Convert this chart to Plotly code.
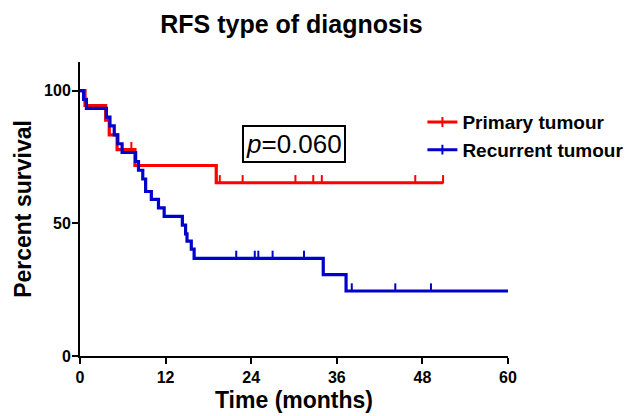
import plotly.graph_objects as go

# ---- data ----
red_name = "Primary tumour"
red_t = [0, 0.7, 3.6, 4.1, 5.2, 7.7, 19.1, 50.9]
red_s = [100, 94.4, 88.9, 83.3, 77.8, 71.8, 65.3, 65.3]
red_censor_t = [7.2, 19.6, 22.8, 30.2, 32.7, 33.9, 47.0, 50.9]

blue_name = "Recurrent tumour"
blue_t = [0, 0.5, 0.9, 3.7, 4.2, 4.8, 5.3, 5.9, 7.8, 8.2, 8.8, 9.2, 10.0, 11.0,
          11.8, 14.35, 14.8, 15.0, 15.6, 16.0, 34.1, 37.3, 60.0]
blue_s = [100, 96.7, 93.3, 90.0, 86.7, 83.3, 80.0, 76.7, 73.3, 70.0, 66.7, 62.0, 59.0, 55.8,
          52.6, 49.3, 46.0, 43.3, 40.3, 36.8, 30.7, 24.5, 24.5]
blue_censor_t = [21.9, 24.5, 25.0, 27.0, 31.4, 38.1, 44.2, 49.2]

x_ticks = [0, 12, 24, 36, 48, 60]
y_ticks = [0, 50, 100]
p_text = "<i>p</i>=0.060"

RED = "#FF0000"
BLUE = "#0000CC"
FONT = "Liberation Sans"


def surv_at(times, surv, t):
    val = surv[0]
    for ti, si in zip(times, surv):
        if ti <= t:
            val = si
    return val


fig = go.Figure()
for name, tt, ss, ct, col in [(red_name, red_t, red_s, red_censor_t, RED),
                               (blue_name, blue_t, blue_s, blue_censor_t, BLUE)]:
    fig.add_trace(go.Scatter(x=tt, y=ss, mode="lines", line=dict(color=col, width=3.2, shape="hv"),
                             showlegend=False, hoverinfo="skip"))
    cy = [surv_at(tt, ss, t) + 1.3 for t in ct]
    fig.add_trace(go.Scatter(x=ct, y=cy, mode="markers",
                             marker=dict(symbol="line-ns", size=6, line=dict(color=col, width=2)),
                             showlegend=False, hoverinfo="skip"))
    # legend entry
    fig.add_trace(go.Scatter(x=[None], y=[None], mode="lines+markers", name=name,
                             line=dict(color=col, width=3),
                             marker=dict(symbol="line-ns", size=7, line=dict(color=col, width=2))))

fig.add_annotation(x=30, y=80, xref="x", yref="y", text=p_text, showarrow=False,
                   font=dict(family=FONT, size=26, color="black"),
                   bordercolor="black", borderwidth=2, borderpad=2, bgcolor="white")

fig.update_layout(
    width=633, height=416,
    margin=dict(l=80, r=125, t=62, b=60, autoexpand=False),
    plot_bgcolor="white", paper_bgcolor="white",
    title=dict(text="RFS type of diagnosis", x=0.4605, xanchor="center", y=0.942, yanchor="middle",
               font=dict(family=FONT, size=25, color="black", weight="bold")),
    legend=dict(x=0.80, y=0.86, xanchor="left", yanchor="top", bgcolor="rgba(0,0,0,0)",
                font=dict(family=FONT, size=19, color="black", weight="bold"),
                tracegroupgap=0, itemwidth=30),
    xaxis=dict(range=[0, 60], tickvals=x_ticks, showgrid=False, zeroline=False,
               showline=True, linecolor="black", linewidth=2,
               ticks="outside", ticklen=6, tickwidth=2, tickcolor="black",
               tickfont=dict(family=FONT, size=16, color="black", weight="bold"),
               title=dict(text="Time (months)", standoff=7,
                          font=dict(family=FONT, size=23, color="black", weight="bold"))),
    yaxis=dict(range=[0, 110.8], tickvals=y_ticks, showgrid=False, zeroline=False,
               showline=True, linecolor="black", linewidth=2,
               ticks="outside", ticklen=6, tickwidth=2, tickcolor="black",
               ticklabelstandoff=-2,
               tickfont=dict(family=FONT, size=16, color="black", weight="bold"),
               title=dict(text="Percent survival", standoff=6,
                          font=dict(family=FONT, size=23, color="black", weight="bold"))),
)

fig.write_html("out.html")
